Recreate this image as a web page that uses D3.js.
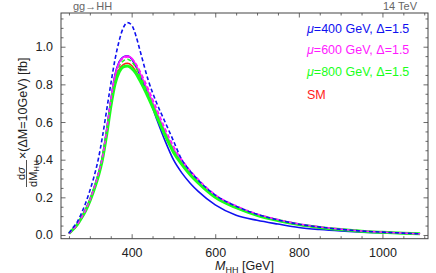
<!DOCTYPE html>
<html><head><meta charset="utf-8">
<script src="https://cdn.jsdelivr.net/npm/d3@7"></script>
<style>
body{margin:0;background:#fff;}
svg{display:block;font-family:"Liberation Sans",Arial,sans-serif;}
</style></head>
<body><svg id="c" width="436" height="273"></svg>
<script>
const masses = [250,260,270,280,290,300,310,320,330,340,350,360,370,380,390,400,410,420,440,460,480,500,520,540,560,600,650,700,750,800,850,900,950,1000,1050,1090];
const blueSolid = [0.008,0.031,0.057,0.093,0.135,0.187,0.25,0.323,0.415,0.555,0.715,0.85,0.92,0.946,0.952,0.935,0.895,0.85,0.74,0.615,0.50,0.40,0.33,0.275,0.23,0.16,0.105,0.078,0.058,0.04,0.029,0.021,0.015,0.011,0.008,0.005];
const blueDashed = [0.01,0.04,0.07,0.115,0.17,0.235,0.31,0.40,0.52,0.66,0.80,0.93,1.03,1.10,1.128,1.115,1.06,0.98,0.82,0.70,0.60,0.50,0.40,0.34,0.29,0.212,0.153,0.11,0.08,0.057,0.042,0.03,0.021,0.015,0.01,0.006];
const magentaSolid = [0.008,0.03,0.056,0.092,0.133,0.185,0.247,0.32,0.41,0.55,0.71,0.845,0.915,0.943,0.95,0.94,0.905,0.86,0.76,0.652,0.55,0.458,0.388,0.33,0.283,0.205,0.148,0.107,0.078,0.056,0.041,0.029,0.02,0.014,0.009,0.006];
const magentaDashed = [0.008,0.03,0.056,0.092,0.133,0.185,0.247,0.32,0.41,0.55,0.71,0.84,0.91,0.938,0.945,0.937,0.91,0.87,0.775,0.67,0.565,0.472,0.40,0.342,0.294,0.214,0.155,0.112,0.082,0.059,0.043,0.031,0.021,0.015,0.01,0.006];
const greenSolid = [0.008,0.03,0.055,0.09,0.13,0.18,0.24,0.31,0.40,0.53,0.68,0.80,0.865,0.893,0.897,0.885,0.86,0.82,0.73,0.63,0.53,0.44,0.375,0.32,0.275,0.20,0.145,0.105,0.077,0.055,0.04,0.029,0.02,0.014,0.009,0.006];
const greenDashed = [0.008,0.03,0.056,0.091,0.132,0.183,0.244,0.315,0.405,0.54,0.70,0.83,0.895,0.925,0.933,0.92,0.89,0.845,0.745,0.64,0.54,0.45,0.38,0.325,0.28,0.203,0.147,0.106,0.078,0.056,0.041,0.029,0.02,0.014,0.009,0.006];
const smRed = [0.008,0.03,0.055,0.09,0.13,0.18,0.24,0.31,0.40,0.535,0.69,0.815,0.88,0.905,0.912,0.90,0.87,0.83,0.735,0.632,0.532,0.442,0.376,0.321,0.276,0.2,0.145,0.105,0.077,0.055,0.04,0.029,0.02,0.014,0.009,0.006];
const xTicks = [400,600,800,1000];
const yTicks = [0.0,0.2,0.4,0.6,0.8,1.0];
const legendLabels = ["=400 GeV, Δ=1.5","=600 GeV, Δ=1.5","=800 GeV, Δ=1.5","SM"];
const legendColors = ["#1010f0","#ff1aff","#1aff1a","#ff2020"];

const svg = d3.select("#c");
const L=61,T=13,R=428,B=238.7;
const x = d3.scaleLinear().domain([231,1109]).range([L,R]);
const y = d3.scaleLinear().domain([-0.0197,1.179]).range([B,T]);

svg.append("defs").append("clipPath").attr("id","clip").append("rect")
  .attr("x",L).attr("y",T).attr("width",R-L).attr("height",B-T);

const series = [
  {v:smRed,c:"#ff2020",w:1.6,d:null},
  {v:blueSolid,c:"#1010f0",w:1.6,d:null},
  {v:magentaSolid,c:"#ff1aff",w:1.6,d:null},
  {v:greenSolid,c:"#1aff1a",w:3,d:null},
  {v:greenDashed,c:"#1aff1a",w:1.6,d:"4,2.5"},
  {v:magentaDashed,c:"#ff1aff",w:1.6,d:"4,2.5"},
  {v:blueDashed,c:"#1010f0",w:1.6,d:"4,2.5"}
];
const line = d3.line().x((d,i)=>x(masses[i])).y(d=>y(d)).curve(d3.curveMonotoneX);
const g = svg.append("g").attr("clip-path","url(#clip)");
series.forEach(s=>{
  g.append("path").attr("d",line(s.v)).attr("fill","none").attr("stroke",s.c)
   .attr("stroke-width",s.w).attr("stroke-dasharray",s.d).attr("stroke-linejoin","round");
});

// frame axes with inward ticks
const frameColor="#444";
const ax = (gen, tr) => {
  const a = svg.append("g").attr("transform",tr).call(gen);
  a.select(".domain").remove();
  a.selectAll("line").attr("stroke",frameColor).attr("stroke-width",0.8);
  return a;
};
const xMinor = d3.range(250,1101,50).filter(v=>!xTicks.includes(v));
const yMinor = d3.range(0,1.16,0.05).filter(v=>!yTicks.some(t=>Math.abs(t-v)<1e-6));
// bottom
ax(d3.axisBottom(x).tickValues(xTicks).tickSize(-4.5).tickFormat(d=>d).tickPadding(9),`translate(0,${B})`)
  .selectAll("text").attr("fill","#222").style("font-size","12.5px").style("font-family","Liberation Sans, Arial, sans-serif");
ax(d3.axisBottom(x).tickValues(xMinor).tickSize(-2.5).tickFormat(""),`translate(0,${B})`);
// top
ax(d3.axisTop(x).tickValues(xTicks).tickSize(-4.5).tickFormat(""),`translate(0,${T})`);
ax(d3.axisTop(x).tickValues(xMinor).tickSize(-2.5).tickFormat(""),`translate(0,${T})`);
// left
ax(d3.axisLeft(y).tickValues(yTicks).tickSize(-4.5).tickFormat(d3.format(".1f")).tickPadding(8),`translate(${L},0)`)
  .selectAll("text").attr("fill","#222").style("font-size","12.5px").style("font-family","Liberation Sans, Arial, sans-serif");
ax(d3.axisLeft(y).tickValues(yMinor).tickSize(-2.5).tickFormat(""),`translate(${L},0)`);
// right
ax(d3.axisRight(y).tickValues(yTicks).tickSize(-4.5).tickFormat(""),`translate(${R},0)`);
ax(d3.axisRight(y).tickValues(yMinor).tickSize(-2.5).tickFormat(""),`translate(${R},0)`);

svg.append("rect").attr("x",L).attr("y",T).attr("width",R-L).attr("height",B-T)
  .attr("fill","none").attr("stroke",frameColor).attr("stroke-width",1);

// corner labels
svg.append("text").attr("x",73).attr("y",10).attr("fill","#666").style("font-size","11px").text("gg→HH");
svg.append("text").attr("x",417).attr("y",9.5).attr("text-anchor","end").attr("fill","#666").style("font-size","11px").text("14 TeV");

// legend
legendLabels.forEach((t,i)=>{
  const tx = svg.append("text").attr("x",307).attr("y",[33,54,76,99][i]).attr("fill",legendColors[i]).style("font-size","12.5px");
  if(i<3){
    tx.append("tspan").style("font-style","italic").text("μ");
  }
  tx.append("tspan").text(t);
});

// x-axis title
const xt = svg.append("text").attr("x",244.5).attr("y",270).attr("text-anchor","middle").attr("fill","#222").style("font-size","12.5px");
xt.append("tspan").style("font-style","italic").text("M");
xt.append("tspan").attr("dy",2.5).style("font-size","9px").text("HH");
xt.append("tspan").attr("dy",-2.5).text(" [GeV]");

// y-axis title (rotated)
const yg = svg.append("g").attr("transform","translate(26.5,187) rotate(-90)").attr("fill","#222");
const fracW = 27;
const num = yg.append("text").attr("x",fracW/2).attr("y",-2).attr("text-anchor","middle").style("font-size","11px");
num.append("tspan").text("d");
num.append("tspan").style("font-style","italic").text("σ");
yg.append("line").attr("x1",0).attr("x2",fracW).attr("y1",0).attr("y2",0).attr("stroke","#222").attr("stroke-width",0.8);
const den = yg.append("text").attr("x",fracW/2).attr("y",10.5).attr("text-anchor","middle").style("font-size","11px");
den.append("tspan").text("dM");
den.append("tspan").attr("dy",2).style("font-size","8px").text("HH");
yg.append("text").attr("x",fracW+1).attr("y",0).style("font-size","12.5px").text("×(ΔM=10GeV) [fb]");
</script></body></html>
